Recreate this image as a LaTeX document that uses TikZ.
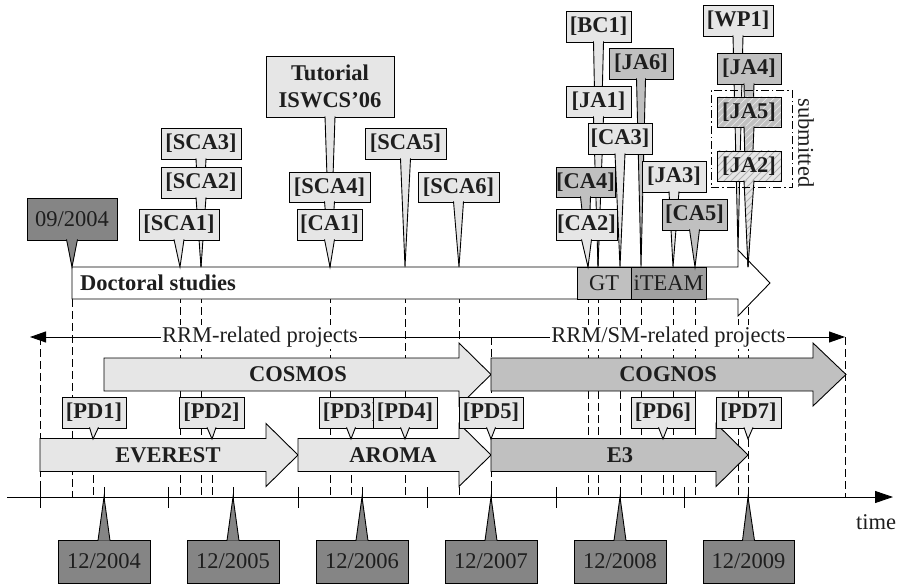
\documentclass[tikz,border=0pt]{standalone}
\usepackage{fontspec}
\setmainfont{Liberation Serif}
\usetikzlibrary{arrows.meta}

\definecolor{lightg}{HTML}{E6E6E6}
\definecolor{midg}{HTML}{C0C0C0}
\definecolor{darkg}{HTML}{A0A0A0}
\definecolor{dateg}{HTML}{858585}
\definecolor{hatchhi}{HTML}{E2E2E2}
\definecolor{hatchlo}{HTML}{B0B0B0}
\definecolor{ink}{HTML}{1E1E1E}

\newcommand\bigf{\fontsize{22.5}{27}\selectfont}

% rectangular box given by its left, top, right and bottom edges
\newcommand\cbox[7]{\node[#2,anchor=north west,minimum width={#5pt-#3pt},minimum height={#6pt-#4pt}] (#1) at (#3,#4) {#7};}
% callout pointers: from the bottom (or top) edge of a box to a target
\newcommand\pdown[4]{\filldraw[#1] ([xshift=-#3pt,yshift=0.6pt]#2.south) -- (#4) -- ([xshift=#3pt,yshift=0.6pt]#2.south);}
\newcommand\pup[4]{\filldraw[#1] ([xshift=-#3pt,yshift=-0.6pt]#2.north) -- (#4) -- ([xshift=#3pt,yshift=-0.6pt]#2.north);}
% block arrow for a project: fill, start x, end of body, tip x, centre y
\newcommand\projarrow[5]{\draw[ln,fill=#1] (#2,{#5-16.5}) -- (#3,{#5-16.5}) -- (#3,{#5-31.5}) -- (#4,#5) -- (#3,{#5+31.5}) -- (#3,{#5+16.5}) -- (#2,{#5+16.5}) -- cycle;}
% diagonal hatching inside the current path
\newcommand\hatchlines[1]{\foreach \i in {-200,-193,...,110}
  \draw[#1,line width=0.8pt] ([xshift=\i pt,yshift=-4pt]path picture bounding box.south west) -- ++(230pt,230pt);}

\tikzset{
  ln/.style={line width=0.9pt},
  guide/.style={line width=0.9pt,dash pattern=on 8pt off 4pt},
  cb/.style={draw,line width=0.9pt,inner sep=0pt,outer sep=0pt,font=\bigf\bfseries,text=ink},
  cbl/.style={cb,fill=lightg},
  cbm/.style={cb,fill=midg},
  rb/.style={draw,line width=0.9pt,inner sep=0pt,outer sep=0pt,font=\bigf,text=ink},
  cbd/.style={rb,fill=dateg},
  hatchA/.style={path picture={\hatchlines{hatchhi}}},
  hatchB/.style={path picture={\hatchlines{hatchlo}}},
  cbh/.style={cb,fill=midg,hatchA},
  cbk/.style={cb,fill=lightg,hatchB},
  pl/.style={draw,line width=0.9pt,fill=lightg},
  pm/.style={draw,line width=0.9pt,fill=midg},
  pdk/.style={draw,line width=0.9pt,fill=dateg},
  ph/.style={draw,line width=0.9pt,fill=midg,hatchA},
  pk/.style={draw,line width=0.9pt,fill=lightg,hatchB},
  bartext/.style={font=\bigf\bfseries,inner sep=0pt,text=ink},
  plain/.style={font=\bigf,text=ink},
}

\begin{document}
\begin{tikzpicture}[x=1pt,y=-1pt]
\useasboundingbox (0,0) rectangle (899,585);

% vertical guide lines down to the time axis
\foreach \x in {180,201,330,405,459,588,598,620,641,673,695,738,748}
  \draw[guide] (\x,283) -- (\x,497);
\draw[guide] (72,299) -- (72,497);
\foreach \x in {93,212,351,663}
  \draw[guide] (\x,439) -- (\x,497);
\foreach \x in {40,491,845}
  \draw[guide] (\x,337) -- (\x,497);

% time axis
\coordinate (ax0) at (7,497);
\coordinate (ax1) at (893,497);
\draw[ln,-{Triangle[length=18pt,width=12pt]}] (ax0) -- (ax1);
\foreach \x in {40,104,168,233,298,362,427,491,556,620,684,748}
  \draw[ln] (\x,487) -- (\x,508);
\node[plain] (time) at (876,522) {time};

% project ranges
\coordinate (rl) at (30,337);
\coordinate (rr) at (845,337);
\draw[ln,{Triangle[length=16pt,width=11pt]}-{Triangle[length=16pt,width=11pt]}] (rl) -- (rr);
\node[plain,fill=white,inner sep=1.5pt] (rrm) at (260,337) {RRM-related projects};
\node[plain,fill=white,inner sep=1.5pt] (rrmsm) at (668.5,337) {RRM/SM-related projects};

% projects
\projarrow{lightg}{104}{459}{491}{374.5}
\projarrow{lightg}{40}{266}{298}{455}
\projarrow{lightg}{298}{459}{491}{455}
\projarrow{midg}{491}{813}{846}{374.5}
\projarrow{midg}{491}{716}{748}{455}
\node[bartext] (cosmos) at (298,374.5) {COSMOS};
\node[bartext] (cognos) at (668,374.5) {COGNOS};
\node[bartext] (everest) at (168,455) {EVEREST};
\node[bartext] (aroma) at (393,455) {AROMA};
\node[bartext] (e3) at (620,455) {E3};

% project deliverables
\coordinate (pd1-t) at (93,439);
\coordinate (pd2-t) at (212,439);
\coordinate (pd3-t) at (351,439);
\coordinate (pd4-t) at (405,439);
\coordinate (pd5-t) at (491,439);
\coordinate (pd6-t) at (663,439);
\coordinate (pd7-t) at (748,439);
\cbox{pd1}{cbl}{62}{397}{126}{428}{[PD1]} \pdown{pl}{pd1}{4.5}{pd1-t}
\cbox{pd2}{cbl}{179}{397}{244}{428}{[PD2]} \pdown{pl}{pd2}{4.5}{pd2-t}
\cbox{pd3}{cbl}{319}{397}{383}{428}{[PD3]} \pdown{pl}{pd3}{4.5}{pd3-t}
\cbox{pd4}{cbl}{373}{397}{437}{428}{[PD4]} \pdown{pl}{pd4}{4.5}{pd4-t}
\cbox{pd5}{cbl}{459}{397}{523}{428}{[PD5]} \pdown{pl}{pd5}{4.5}{pd5-t}
\cbox{pd6}{cbl}{631}{397}{695}{428}{[PD6]} \pdown{pl}{pd6}{4.5}{pd6-t}
\cbox{pd7}{cbl}{716}{397}{781}{428}{[PD7]} \pdown{pl}{pd7}{4.5}{pd7-t}

% doctoral studies
\draw[ln,fill=white] (72,267) -- (738,267) -- (738,250) -- (770,283) -- (738,316) -- (738,299) -- (72,299) -- cycle;
\node[bartext,anchor=west] (doc) at (80,283) {Doctoral studies};
\cbox{gt}{rb,fill=midg}{577}{267}{631}{299}{GT}
\cbox{iteam}{rb,fill=darkg}{631}{267}{706}{299}{iTEAM}

% publications
\coordinate (sca1-t) at (180,267);
\coordinate (sca2-t) at (201,267);
\coordinate (ca1-t) at (330,267);
\coordinate (sca5-t) at (405,267);
\coordinate (sca6-t) at (459,267);
\coordinate (ca2-t) at (588,267);
\coordinate (ja1-t) at (598,267);
\coordinate (ca3-t) at (620,267);
\coordinate (ja6-t) at (641,267);
\coordinate (ja3-t) at (673,267);
\coordinate (ca5-t) at (695,267);
\coordinate (wp1-t) at (738,250);
\coordinate (ja2-t) at (748,267);

\cbox{sca3}{cbl}{161}{128}{241}{159}{[SCA3]} \pdown{pl}{sca3}{5}{sca2-t}
\cbox{sca2}{cbl}{161}{167}{241}{198}{[SCA2]} \pdown{pl}{sca2}{5}{sca2-t}
\cbox{sca1}{cbl}{139}{209}{219}{240}{[SCA1]} \pdown{pl}{sca1}{5}{sca1-t}

\cbox{tut}{cbl,align=center}{266}{56}{394}{117}{Tutorial\\ISWCS’06} \pdown{pl}{tut}{5}{ca1-t}
\cbox{sca4}{cbl}{289}{172}{370}{202}{[SCA4]} \pdown{pl}{sca4}{5}{ca1-t}
\cbox{ca1}{cbl}{297}{209}{362}{240}{[CA1]} \pdown{pl}{ca1}{5}{ca1-t}

\cbox{sca5}{cbl}{365}{128}{446}{159}{[SCA5]} \pdown{pl}{sca5}{5}{sca5-t}
\cbox{sca6}{cbl}{418}{172}{499}{202}{[SCA6]} \pdown{pl}{sca6}{5}{sca6-t}

\cbox{bc1}{cbl}{566}{11}{631}{42}{[BC1]} \pdown{pl}{bc1}{5}{ja1-t}
\cbox{ja6}{cbm}{609}{48}{673}{79}{[JA6]} \pdown{pm}{ja6}{4.5}{ja6-t}
\cbox{ja1}{cbl}{566}{86}{631}{117}{[JA1]} \pdown{pl}{ja1}{5}{ja1-t}
\cbox{ca3}{cbl}{588}{123}{652}{154}{[CA3]} \pdown{pl}{ca3}{5}{ca3-t}
\cbox{ca4}{cbm}{556}{167}{615}{197}{[CA4]} \pdown{pm}{ca4}{5}{ca2-t}
\cbox{ca2}{cbl}{556}{209}{617}{240}{[CA2]} \pdown{pl}{ca2}{5}{ca2-t}
\cbox{ja3}{cbl}{642}{161}{706}{192}{[JA3]} \pdown{pl}{ja3}{5}{ja3-t}
\cbox{ca5}{cbm}{662}{199}{727}{230}{[CA5]} \pdown{pm}{ca5}{5}{ca5-t}

\cbox{wp1}{cbl}{703}{5}{773}{36}{[WP1]} \pdown{pl}{wp1}{5}{wp1-t}
\cbox{ja4}{cbm}{717}{53}{781}{84}{[JA4]} \pdown{pm}{ja4}{5}{ja2-t}
\cbox{ja5}{cbh}{717}{97}{781}{127}{[JA5]} \pdown{ph}{ja5}{5}{ja2-t}
\cbox{ja2}{cbk}{717}{151}{781}{181}{[JA2]} \pdown{pk}{ja2}{5}{ja2-t}

% submitted papers
\node[draw,ln,dash pattern=on 8pt off 3pt on 1.5pt off 3pt,anchor=north west,minimum width=81pt,minimum height=97pt,inner sep=0pt] (subm) at (711,90) {};
\node[plain,rotate=-90] (submt) at (806,143) {submitted};

% dates
\coordinate (d0904-t) at (72,267);
\coordinate (d04-t) at (104,497);
\coordinate (d05-t) at (233,497);
\coordinate (d06-t) at (362,497);
\coordinate (d07-t) at (491,497);
\coordinate (d08-t) at (620,497);
\coordinate (d09-t) at (748,497);
\cbox{d0904}{cbd}{27}{198}{117}{240}{09/2004} \pdown{pdk}{d0904}{5.5}{d0904-t}
\cbox{d04}{cbd}{58}{540}{150}{583}{12/2004} \pup{pdk}{d04}{6}{d04-t}
\cbox{d05}{cbd}{187}{540}{279}{583}{12/2005} \pup{pdk}{d05}{6}{d05-t}
\cbox{d06}{cbd}{316}{540}{408}{583}{12/2006} \pup{pdk}{d06}{6}{d06-t}
\cbox{d07}{cbd}{445}{540}{537}{583}{12/2007} \pup{pdk}{d07}{6}{d07-t}
\cbox{d08}{cbd}{574}{540}{666}{583}{12/2008} \pup{pdk}{d08}{6}{d08-t}
\cbox{d09}{cbd}{703}{540}{794}{583}{12/2009} \pup{pdk}{d09}{6}{d09-t}
\end{tikzpicture}
\end{document}
